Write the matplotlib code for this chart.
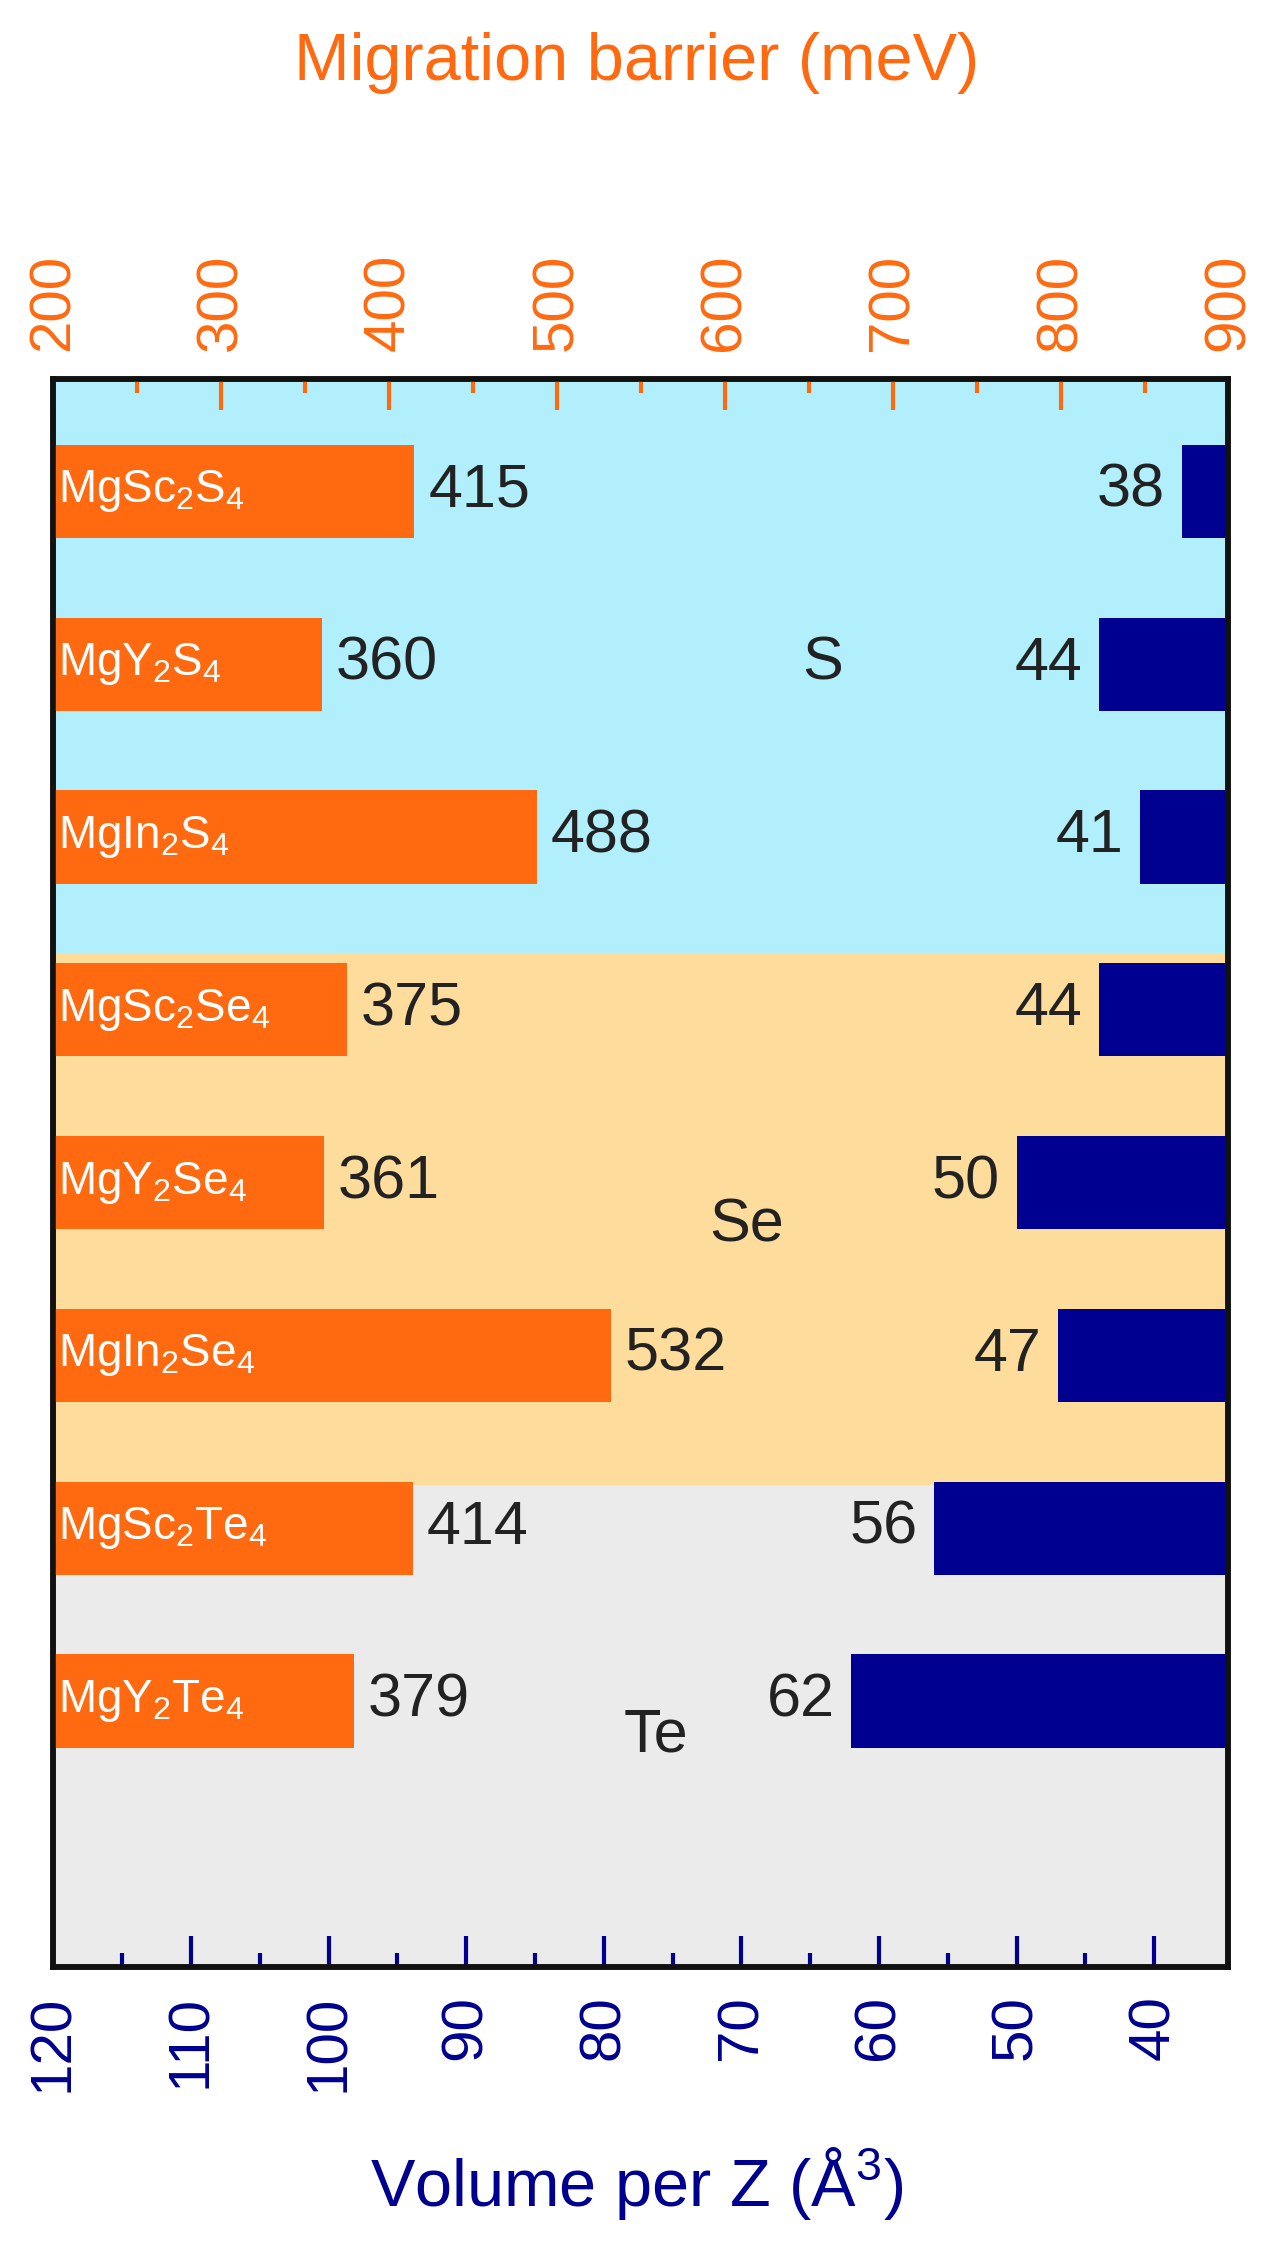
import matplotlib
matplotlib.use("Agg")
import matplotlib.pyplot as plt

plt.rcParams['font.family'] = ['Liberation Sans', 'DejaVu Sans']
plt.rcParams['mathtext.fontset'] = 'custom'
plt.rcParams['mathtext.rm'] = 'Liberation Sans'

compounds = [r"MgSc$_2$S$_4$", r"MgY$_2$S$_4$", r"MgIn$_2$S$_4$",
             r"MgSc$_2$Se$_4$", r"MgY$_2$Se$_4$", r"MgIn$_2$Se$_4$",
             r"MgSc$_2$Te$_4$", r"MgY$_2$Te$_4$"]
barrier = [415, 360, 488, 375, 361, 532, 414, 379]
volume = [38, 44, 41, 44, 50, 47, 56, 62]
groups = ["S", "Se", "Te"]
group_bounds = [(-0.65, 2.67), (2.67, 5.75), (5.75, 8.54)]
group_label_pos = [(658, 1.0), (613, 4.25), (559, 7.2)]
group_colors = ["#b0effb", "#fedc9c", "#ebebeb"]

orange = "#ff6a10"
navy = "#000090"

fig = plt.figure(figsize=(12.73, 22.56), dpi=100)
ax = fig.add_axes([0.042, 0.128, 0.923, 0.704])   # volume axis (bottom)
ax2 = ax.twiny()                                  # barrier axis (top)

ax.set_xlim(120, 34.6)
ax.set_ylim(8.54, -0.65)
ax2.set_ylim(8.54, -0.65)
ax2.set_xlim(200, 900)

for (y0, y1), c in zip(group_bounds, group_colors):
    ax.axhspan(y0, y1, color=c, zorder=0, lw=0)

ys = list(range(len(compounds)))
ax.barh(ys, volume, height=0.54, color=navy, zorder=2)
ax2.barh(ys, barrier, height=0.54, color=orange, zorder=2)

for y, v in zip(ys, volume):
    ax.annotate(str(v), (v, y), xytext=(-12, 0), textcoords="offset points",
                ha="right", va="center", fontsize=44, color="#222222")
for y, b, name in zip(ys, barrier, compounds):
    ax2.annotate(str(b), (b, y), xytext=(10, 0), textcoords="offset points",
                 ha="left", va="center", fontsize=44, color="#222222")
    ax2.annotate(name, (200, y), xytext=(3, 0), textcoords="offset points",
                 ha="left", va="center", fontsize=33, color="white")

for g, (x, y) in zip(groups, group_label_pos):
    ax2.text(x, y, g, ha="center", va="center", fontsize=44, color="#222222")

ax.set_yticks([])
ax2.set_yticks([])
ax.set_xticks(range(120, 35, -10))
ax.set_xticks(range(115, 35, -10), minor=True)
ax.tick_params(axis='x', which='major', direction='in', length=22, width=3,
               color=navy, labelcolor=navy, labelsize=42, labelrotation=90, pad=20)
ax.tick_params(axis='x', which='minor', direction='in', length=10, width=3, color=navy)
ax2.set_xticks(range(200, 901, 100))
ax2.set_xticks(range(250, 900, 100), minor=True)
ax2.tick_params(axis='x', which='major', direction='in', length=22, width=3,
                color=orange, labelcolor=orange, labelsize=42, labelrotation=90, pad=20)
ax2.tick_params(axis='x', which='minor', direction='in', length=10, width=3, color=orange)

for a in (ax, ax2):
    for s in a.spines.values():
        s.set_linewidth(4)
        s.set_color("#111111")

fig.text(0.5, 0.972, "Migration barrier (meV)", ha="center", va="center",
         fontsize=48, color=orange)
fig.text(0.5, 0.032, r"Volume per Z (Å$^3$)", ha="center", va="center",
         fontsize=48, color=navy)

fig.savefig("out.png", dpi=100)
